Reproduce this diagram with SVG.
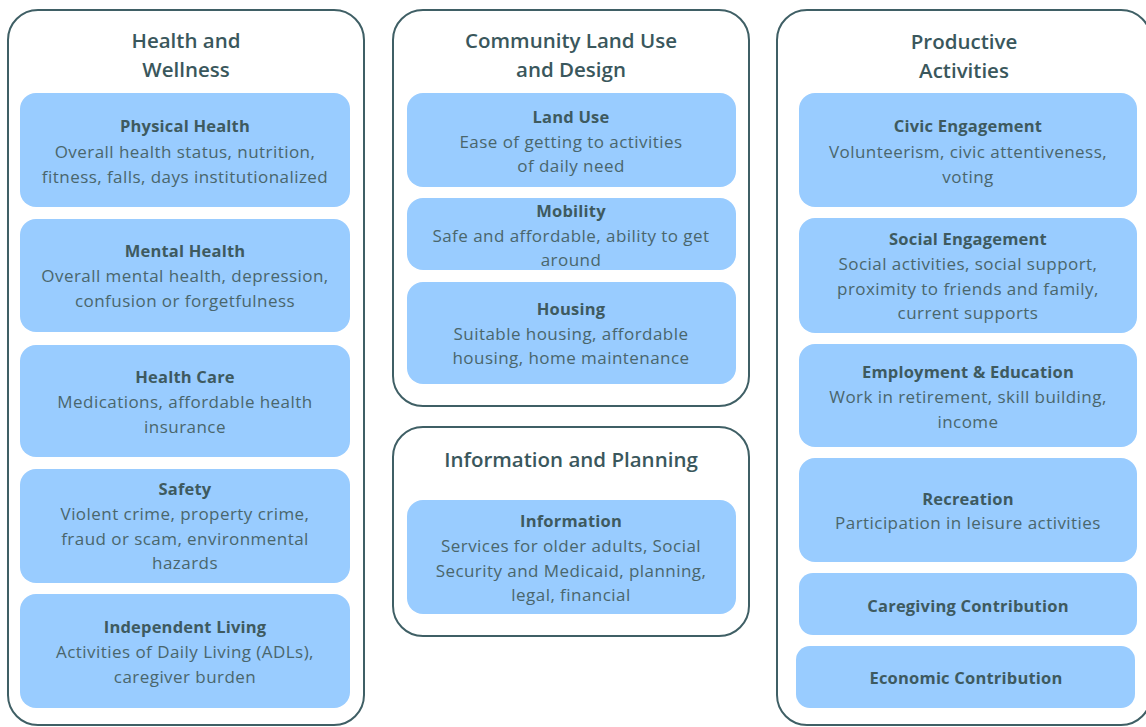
<svg xmlns="http://www.w3.org/2000/svg" width="1146" height="727" viewBox="0 0 1146 727">
<style>
.outer{fill:#ffffff;stroke:#3f5f65;stroke-width:2}
.inner{fill:#99ccff;stroke:none}
.title{font-family:"Open Sans","Liberation Sans",sans-serif;font-size:20.5px;font-weight:600;fill:#3a575c;text-anchor:middle}
.head{font-family:"Open Sans","Liberation Sans",sans-serif;font-size:16.5px;font-weight:bold;fill:#3e5a5f;text-anchor:middle;letter-spacing:0.2px}
.body{font-family:"Open Sans","Liberation Sans",sans-serif;font-size:17px;fill:#4a666c;text-anchor:middle;letter-spacing:0.45px}
</style>
<rect width="1146" height="727" fill="#ffffff"/>
<g id="group-health">
<rect class="outer" x="8" y="10" width="356" height="715" rx="30" ry="30"/>
<text class="title" x="186" y="48">Health and</text>
<text class="title" x="186" y="77">Wellness</text>
</g>
<g id="node-physical-health">
<rect class="inner" x="20" y="93" width="330" height="114" rx="16"/>
<text class="head" x="185" y="132">Physical Health</text>
<text class="body" x="185" y="158">Overall health status, nutrition,</text>
<text class="body" x="185" y="183">fitness, falls, days institutionalized</text>
</g>
<g id="node-mental-health">
<rect class="inner" x="20" y="219" width="330" height="113" rx="16"/>
<text class="head" x="185" y="257">Mental Health</text>
<text class="body" x="185" y="282">Overall mental health, depression,</text>
<text class="body" x="185" y="307">confusion or forgetfulness</text>
</g>
<g id="node-health-care">
<rect class="inner" x="20" y="345" width="330" height="112" rx="16"/>
<text class="head" x="185" y="383">Health Care</text>
<text class="body" x="185" y="408">Medications, affordable health</text>
<text class="body" x="185" y="433">insurance</text>
</g>
<g id="node-safety">
<rect class="inner" x="20" y="469" width="330" height="114" rx="16"/>
<text class="head" x="185" y="495">Safety</text>
<text class="body" x="185" y="520">Violent crime, property crime,</text>
<text class="body" x="185" y="545">fraud or scam, environmental</text>
<text class="body" x="185" y="569">hazards</text>
</g>
<g id="node-independent-living">
<rect class="inner" x="20" y="594" width="330" height="114" rx="16"/>
<text class="head" x="185" y="633">Independent Living</text>
<text class="body" x="185" y="658">Activities of Daily Living (ADLs),</text>
<text class="body" x="185" y="683">caregiver burden</text>
</g>

<g id="group-community">
<rect class="outer" x="393" y="10" width="356" height="396" rx="30" ry="30"/>
<text class="title" x="571" y="48">Community Land Use</text>
<text class="title" x="571" y="77">and Design</text>
</g>
<g id="node-land-use">
<rect class="inner" x="407" y="93" width="329" height="94" rx="16"/>
<text class="head" x="571" y="123">Land Use</text>
<text class="body" x="571" y="148">Ease of getting to activities</text>
<text class="body" x="571" y="172">of daily need</text>
</g>
<g id="node-mobility">
<rect class="inner" x="407" y="198" width="329" height="72" rx="16"/>
<text class="head" x="571" y="217">Mobility</text>
<text class="body" x="571" y="242">Safe and affordable, ability to get</text>
<text class="body" x="571" y="266">around</text>
</g>
<g id="node-housing">
<rect class="inner" x="407" y="282" width="329" height="102" rx="16"/>
<text class="head" x="571" y="315">Housing</text>
<text class="body" x="571" y="340">Suitable housing, affordable</text>
<text class="body" x="571" y="364">housing, home maintenance</text>
</g>

<g id="group-information">
<rect class="outer" x="393" y="427" width="356" height="209" rx="30" ry="30"/>
<text class="title" x="571" y="467">Information and Planning</text>
</g>
<g id="node-information">
<rect class="inner" x="407" y="500" width="329" height="114" rx="16"/>
<text class="head" x="571" y="527">Information</text>
<text class="body" x="571" y="552">Services for older adults, Social</text>
<text class="body" x="571" y="577">Security and Medicaid, planning,</text>
<text class="body" x="571" y="601">legal, financial</text>
</g>

<g id="group-productive">
<rect class="outer" x="777" y="10" width="374" height="715" rx="30" ry="30"/>
<text class="title" x="964" y="49">Productive</text>
<text class="title" x="964" y="78">Activities</text>
</g>
<g id="node-civic">
<rect class="inner" x="799" y="93" width="338" height="114" rx="16"/>
<text class="head" x="968" y="132">Civic Engagement</text>
<text class="body" x="968" y="158">Volunteerism, civic attentiveness,</text>
<text class="body" x="968" y="183">voting</text>
</g>
<g id="node-social">
<rect class="inner" x="799" y="218" width="338" height="115" rx="16"/>
<text class="head" x="968" y="245">Social Engagement</text>
<text class="body" x="968" y="270">Social activities, social support,</text>
<text class="body" x="968" y="295">proximity to friends and family,</text>
<text class="body" x="968" y="319">current supports</text>
</g>
<g id="node-employment">
<rect class="inner" x="799" y="344" width="338" height="103" rx="16"/>
<text class="head" x="968" y="378">Employment &amp; Education</text>
<text class="body" x="968" y="403">Work in retirement, skill building,</text>
<text class="body" x="968" y="428">income</text>
</g>
<g id="node-recreation">
<rect class="inner" x="799" y="458" width="338" height="104" rx="16"/>
<text class="head" x="968" y="505">Recreation</text>
<text class="body" x="968" y="529">Participation in leisure activities</text>
</g>
<g id="node-caregiving">
<rect class="inner" x="799" y="573" width="338" height="62" rx="14"/>
<text class="head" x="968" y="612">Caregiving Contribution</text>
</g>
<g id="node-economic">
<rect class="inner" x="796" y="646" width="339" height="62" rx="14"/>
<text class="head" x="966" y="684">Economic Contribution</text>
</g>
<g id="connectors"></g>
</svg>
